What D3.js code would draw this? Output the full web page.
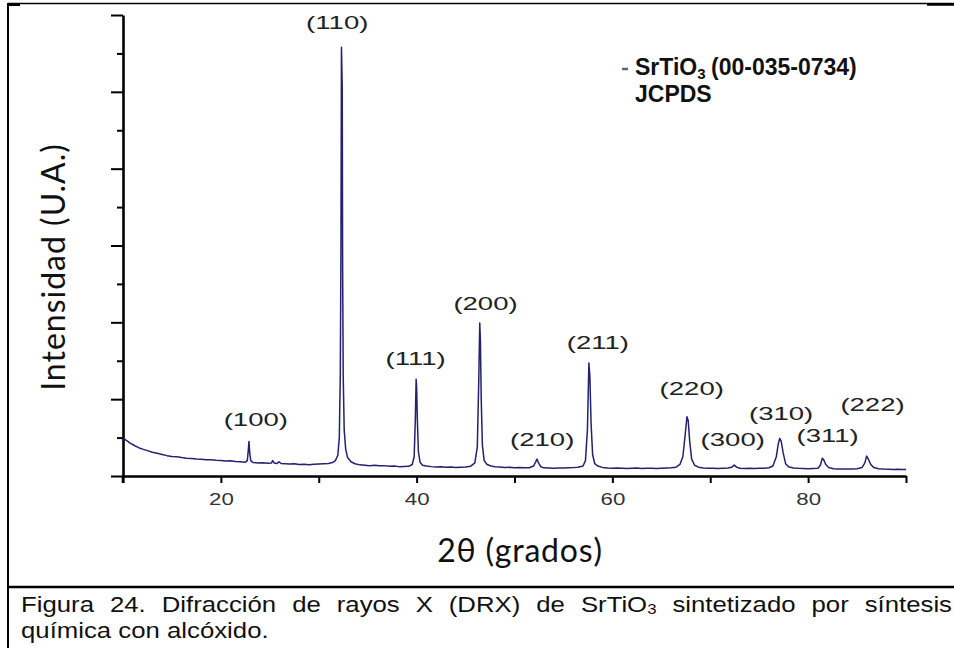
<!DOCTYPE html>
<html>
<head>
<meta charset="utf-8">
<script src="https://cdn.jsdelivr.net/npm/d3@7"></script>
<style>
  body { margin: 0; background: #fff; }
  svg { display: block; }
</style>
</head>
<body>
<svg id="chart" width="954" height="648"></svg>
<script>
// XRD pattern of SrTiO3 (intensity in arbitrary units)
const twoTheta = [
  10.0, 10.25, 10.5, 10.75, 11.0, 11.25, 11.5, 11.75, 12.0, 12.5, 13.0, 13.5, 14.0, 14.5, 15.0, 15.5,
  16.0, 16.5, 17.0, 17.5, 18.0, 18.5, 19.0, 19.5, 20.0, 20.5, 21.0, 21.5, 22.0, 22.5,
  22.7, 22.8, 22.87, 22.95, 23.05, 23.3, 23.8, 24.3, 24.8, 25.15, 25.3, 25.45, 25.7, 25.95, 26.15,
  26.6, 27.0, 27.5, 28.0, 28.5, 29.0, 29.5, 30.0, 30.5, 31.0, 31.4, 31.7, 31.95,
  32.1, 32.2, 32.27, 32.32, 32.36, 32.4, 32.44, 32.5, 32.6, 32.75, 32.95, 33.3, 33.7,
  34.2, 34.7, 35.2, 35.7, 36.2, 36.7, 37.2, 37.7, 38.2, 38.7, 39.2, 39.55, 39.75,
  39.87, 39.95, 40.0, 40.07, 40.18, 40.35, 40.6, 41.0, 41.5, 42.0, 42.5, 43.0, 43.5, 44.0, 44.5,
  45.0, 45.5, 45.95, 46.2, 46.35, 46.45, 46.52, 46.6, 46.72, 46.9, 47.2, 47.6, 48.0, 48.5, 49.0,
  49.5, 50.0, 50.5, 51.0, 51.5, 51.95, 52.15, 52.3, 52.45, 52.7, 53.0, 53.5, 54.0, 54.5, 55.0,
  55.5, 56.0, 56.5, 57.0, 57.25, 57.45, 57.6, 57.7, 57.82, 57.98, 58.2, 58.5, 59.0, 59.5, 60.0,
  60.5, 61.0, 61.5, 62.0, 62.5, 63.0, 63.5, 64.0, 64.5, 65.0, 65.5, 66.0, 66.5, 66.9, 67.2,
  67.45, 67.62, 67.75, 67.9, 68.1, 68.4, 68.8, 69.3, 69.8, 70.3, 70.8, 71.3, 71.8, 72.2, 72.45,
  72.7, 73.0, 73.5, 74.0, 74.5, 75.0, 75.5, 76.0, 76.4, 76.75, 76.95, 77.1, 77.25, 77.45, 77.7,
  78.0, 78.5, 79.0, 79.5, 80.0, 80.5, 81.0, 81.25, 81.45, 81.6, 81.8, 82.1, 82.6, 83.0, 83.5,
  84.0, 84.5, 85.0, 85.5, 85.8, 85.98, 86.15, 86.4, 86.7, 87.2, 87.7, 88.2, 88.7, 89.2, 89.6, 90.0
];
const intensity = [
  0.50, 0.47, 0.45, 0.425, 0.41, 0.39, 0.375, 0.36, 0.35, 0.33, 0.31, 0.295, 0.28, 0.265, 0.255, 0.25,
  0.24, 0.232, 0.228, 0.22, 0.218, 0.21, 0.212, 0.205, 0.202, 0.196, 0.198, 0.19, 0.186, 0.18,
  0.20, 0.33, 0.45, 0.30, 0.20, 0.175, 0.17, 0.172, 0.165, 0.168, 0.20, 0.168, 0.162, 0.185, 0.162,
  0.16, 0.155, 0.158, 0.15, 0.152, 0.148, 0.152, 0.155, 0.158, 0.162, 0.175, 0.20, 0.27,
  0.50, 1.30, 3.00, 5.58, 5.32, 5.06, 2.72, 1.30, 0.60, 0.35, 0.24, 0.185, 0.16,
  0.145, 0.14, 0.135, 0.14, 0.132, 0.135, 0.128, 0.13, 0.122, 0.124, 0.126, 0.15, 0.25,
  0.75, 1.26, 1.16, 0.75, 0.32, 0.18, 0.14, 0.13, 0.122, 0.118, 0.12, 0.114, 0.116, 0.11, 0.113,
  0.116, 0.126, 0.17, 0.38, 1.25, 1.99, 1.75, 1.00, 0.40, 0.20, 0.15, 0.13, 0.12, 0.116, 0.11,
  0.113, 0.108, 0.11, 0.106, 0.108, 0.13, 0.18, 0.22, 0.17, 0.12, 0.106, 0.104, 0.101, 0.105, 0.103,
  0.107, 0.109, 0.114, 0.13, 0.20, 0.60, 1.47, 1.30, 0.70, 0.28, 0.16, 0.13, 0.112, 0.105, 0.10,
  0.104, 0.102, 0.098, 0.10, 0.103, 0.099, 0.10, 0.102, 0.098, 0.10, 0.103, 0.106, 0.115, 0.15, 0.25,
  0.55, 0.77, 0.72, 0.45, 0.22, 0.14, 0.115, 0.105, 0.10, 0.102, 0.098, 0.10, 0.103, 0.115, 0.142,
  0.115, 0.10, 0.098, 0.10, 0.097, 0.10, 0.102, 0.108, 0.13, 0.25, 0.42, 0.49, 0.45, 0.30, 0.16,
  0.12, 0.105, 0.10, 0.097, 0.095, 0.097, 0.10, 0.14, 0.23, 0.21, 0.15, 0.11, 0.095, 0.092, 0.09,
  0.092, 0.09, 0.095, 0.11, 0.17, 0.26, 0.22, 0.15, 0.11, 0.095, 0.09, 0.088, 0.086, 0.088, 0.085, 0.085
];

// Miller index annotations: where each label sits (2θ, intensity of its baseline)
const hklLabels = ["(100)", "(110)", "(111)", "(200)", "(210)", "(211)", "(220)", "(300)", "(310)", "(311)", "(222)"];
const hklTheta  = [23.57, 31.89, 39.9, 47.04, 52.83, 58.52, 68.11, 72.3, 77.24, 81.99, 86.58];
const hklLevel  = [0.65, 5.82, 1.445, 2.16, 0.39, 1.65, 1.05, 0.39, 0.73, 0.44, 0.85];

const xTicks = [10, 20, 30, 40, 50, 60, 70, 80, 90];
const xTickLabels = [20, 40, 60, 80];
const yMajorTicks = [0, 1, 2, 3, 4, 5, 6];
const yMinorTicks = [0.5, 1.5, 2.5, 3.5, 4.5, 5.5];

const xTitle = "2θ (grados)";
const yTitle = "Intensidad (U.A.)";
const legendLines = ["SrTiO3 (00-035-0734)", "JCPDS"];
const captionLines = [
  "Figura 24. Difracción de rayos X (DRX) de SrTiO3 sintetizado por síntesis",
  "química con alcóxido."
];

const svg = d3.select("#chart");

const x = d3.scaleLinear().domain([10, 90]).range([123, 906]);
const y = d3.scaleLinear().domain([0, 6]).range([476, 15]);

// frame around figure + caption
const frame = svg.append("g").attr("stroke", "#000").attr("fill", "none");
frame.append("line").attr("x1", 8).attr("x2", 954).attr("y1", 3.5).attr("y2", 3.5).attr("stroke-width", 1.5);
frame.append("line").attr("x1", 8).attr("x2", 20).attr("y1", 4.5).attr("y2", 4.5).attr("stroke-width", 3);
frame.append("line").attr("x1", 927).attr("x2", 954).attr("y1", 4.5).attr("y2", 4.5).attr("stroke-width", 2.5);
frame.append("line").attr("x1", 8).attr("x2", 8).attr("y1", 3).attr("y2", 648).attr("stroke-width", 2);
frame.append("line").attr("x1", 8).attr("x2", 954).attr("y1", 587).attr("y2", 587).attr("stroke-width", 2.5);

// axes
const xAxis = svg.append("g")
  .attr("transform", `translate(0,${y(0)})`)
  .call(d3.axisBottom(x).tickValues(xTicks).tickSize(7).tickSizeOuter(0)
    .tickFormat(d => xTickLabels.includes(d) ? d : ""));
xAxis.select(".domain").attr("stroke-width", 2.6);
xAxis.selectAll(".tick line").attr("stroke-width", 2);
xAxis.selectAll(".tick text")
  .attr("y", 0)
  .attr("transform", "translate(0,17) scale(1.35,1)")
  .attr("font-family", "'Liberation Sans', Arial, sans-serif")
  .attr("font-size", 16.5)
  .attr("fill", "#333");

const yAxis = svg.append("g")
  .attr("transform", `translate(${x(10)},0)`)
  .call(d3.axisLeft(y).tickValues(yMajorTicks).tickSize(12).tickSizeOuter(0).tickFormat(""));
yAxis.select(".domain").attr("stroke-width", 2.6);
yAxis.selectAll(".tick line").attr("stroke-width", 2);

const yMinor = svg.append("g")
  .attr("transform", `translate(${x(10)},0)`)
  .call(d3.axisLeft(y).tickValues(yMinorTicks).tickSize(6).tickFormat(""));
yMinor.select(".domain").remove();
yMinor.selectAll(".tick line").attr("stroke-width", 2);

// let the x-axis tick at 10 extend below the corner
svg.append("line")
  .attr("x1", x(10)).attr("x2", x(10))
  .attr("y1", y(0)).attr("y2", y(0) + 7)
  .attr("stroke", "#000").attr("stroke-width", 2.6);

// diffraction pattern
const line = d3.line()
  .x((d, i) => x(twoTheta[i]))
  .y(d => y(d));

svg.append("path")
  .datum(intensity)
  .attr("d", line)
  .attr("fill", "none")
  .attr("stroke", "#22226f")
  .attr("stroke-width", 1.5)
  .attr("stroke-linejoin", "round");

// hkl labels
svg.append("g")
  .selectAll("text")
  .data(hklLabels)
  .join("text")
  .attr("transform", (d, i) => `translate(${x(hklTheta[i])},${y(hklLevel[i])}) scale(1.45,1)`)
  .attr("text-anchor", "middle")
  .attr("font-family", "'Liberation Sans', Arial, sans-serif")
  .attr("font-size", 19)
  .attr("fill", "#222")
  .text(d => d);

// axis titles
svg.append("text")
  .attr("x", 520).attr("y", 562)
  .attr("text-anchor", "middle")
  .attr("font-family", "Lato, 'Open Sans', sans-serif")
  .attr("font-size", 32)
  .attr("letter-spacing", 0.8)
  .attr("fill", "#111")
  .text(xTitle);

svg.append("text")
  .attr("transform", "translate(65,267) rotate(-90)")
  .attr("text-anchor", "middle")
  .attr("font-family", "Lato, 'Open Sans', sans-serif")
  .attr("font-size", 32)
  .attr("letter-spacing", 1)
  .attr("fill", "#111")
  .text(yTitle);

// writes a word, turning a trailing 3 after "TiO" into a subscript
function addRich(textSel, str, size, subSize, drop) {
  const m = str.match(/^(.*TiO)3(.*)$/);
  if (!m) { textSel.text(str); return; }
  textSel.append("tspan").text(m[1]);
  textSel.append("tspan").attr("font-size", subSize).attr("dy", drop).text("3");
  if (m[2]) textSel.append("tspan").attr("font-size", size).attr("dy", -drop).text(m[2]);
}

// legend
const legend = svg.append("g").attr("font-family", "'Liberation Sans', Arial, sans-serif")
  .attr("font-weight", "bold").attr("fill", "#111");
legend.append("line")
  .attr("x1", 622).attr("x2", 628).attr("y1", 69).attr("y2", 69)
  .attr("stroke", "#5a6888").attr("stroke-width", 2.5);
legendLines.forEach((s, i) => {
  const parts = s.split(" ");
  const baseY = 75 + i * 27;
  const t = legend.append("text").attr("x", 635).attr("y", baseY).attr("font-size", 23);
  if (parts.length > 1) {
    addRich(t.append("tspan"), parts[0], 23, 15, 3.5);
    legend.append("text").attr("x", 711).attr("y", baseY).attr("font-size", 23)
      .text(parts.slice(1).join(" "));
  } else {
    t.text(s);
  }
});

// caption, first line justified across the box (text is slightly stretched like the source)
const capFont = "'Liberation Sans', Arial, sans-serif";
const capScale = 1.12;
const capLeft = 21 / capScale, capRight = 952 / capScale;
const caption = svg.append("g").attr("transform", `scale(${capScale},1)`);
captionLines.forEach((lineStr, li) => {
  const words = lineStr.split(" ");
  const baseY = 612 + li * 26;
  const nodes = words.map(w => {
    const t = caption.append("text")
      .attr("y", baseY)
      .attr("font-family", capFont)
      .attr("font-size", 23)
      .attr("fill", "#111");
    addRich(t, w, 23, 15, 2);
    return t;
  });
  const widths = nodes.map(n => n.node().getComputedTextLength());
  const total = d3.sum(widths);
  const gap = li === 0 ? (capRight - capLeft - total) / (words.length - 1) : 23 * 0.278;
  let cx = capLeft;
  nodes.forEach((n, i) => {
    n.attr("x", cx);
    cx += widths[i] + gap;
  });
});
</script>
</body>
</html>
